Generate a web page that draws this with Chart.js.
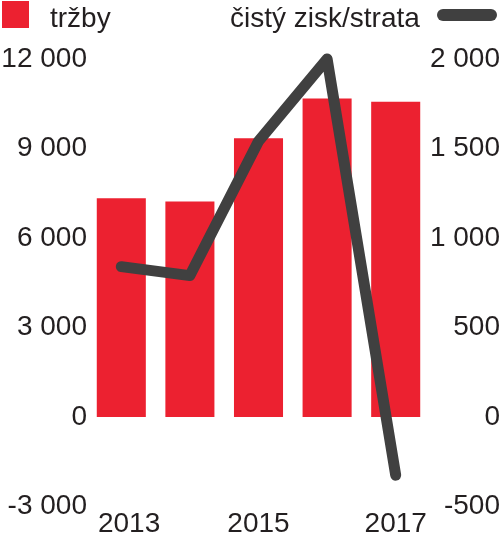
<!DOCTYPE html>
<html lang="cs">
<head>
<meta charset="UTF-8">
<meta name="viewport" content="width=device-width, initial-scale=1.0">
<title>tržby a čistý zisk/strata</title>
<style>
    html, body { margin: 0; padding: 0; background: #fff; overflow: hidden; }
    #wrap { position: relative; width: 500px; height: 541px; }
    .lg {
        position: absolute;
        font-family: "Liberation Sans", Arial, sans-serif;
        font-size: 28px;
        line-height: 1;
        color: #231f20;
        white-space: nowrap;
    }
</style>
</head>
<body>
<div id="wrap">
    <canvas id="myChart"></canvas>
    <div class="lg" style="left:2px; top:1px; width:27px; height:27px; background:#ec2130;"></div>
    <div class="lg" style="left:50px; top:4px;">tržby</div>
    <div class="lg" style="left:230px; top:4px;">čistý zisk/strata</div>
    <div class="lg" style="left:437px; top:9px; width:60px; height:12px; border-radius:6px; background:#404040;"></div>
</div>
<script src="https://cdn.jsdelivr.net/npm/chart.js"></script>
<script>
    // hodnoty
    const years = ['2013', '2014', '2015', '2016', '2017'];
    const trzby = [7330, 7220, 9340, 10680, 10570];
    const zisk = [840, 790, 1540, 2000, -325];
    const leftTicks = [-3000, 0, 3000, 6000, 9000, 12000];
    const rightTicks = [-500, 0, 500, 1000, 1500, 2000];

    const fmt = v => String(v).replace(/\B(?=(\d{3})+(?!\d))/g, ' ');

    Chart.defaults.font.family = '"Liberation Sans", Arial, sans-serif';
    Chart.defaults.font.size = 28;
    Chart.defaults.color = '#231f20';

    const ctx = document.getElementById('myChart');
    ctx.parentNode.style.width = '500px';
    ctx.style.display = 'block';

    const myChart = new Chart(ctx, {
        data: {
            labels: years,
            datasets: [{
                type: 'line',
                label: 'čistý zisk/strata',
                data: zisk,
                yAxisID: 'y1',
                borderColor: '#404040',
                borderWidth: 11,
                borderCapStyle: 'round',
                borderJoinStyle: 'round',
                pointRadius: 0,
                tension: 0,
                clip: false,
                order: 1
            }, {
                type: 'bar',
                label: 'tržby',
                data: trzby,
                yAxisID: 'y',
                backgroundColor: '#ec2130',
                categoryPercentage: 1,
                barPercentage: 0.715,
                order: 2
            }]
        },
        options: {
            responsive: true,
            maintainAspectRatio: false,
            animation: false,
            layout: { padding: { top: 59, left: 0, right: 0, bottom: 0 } },
            plugins: {
                legend: { display: false },
                tooltip: { enabled: false }
            },
            scales: {
                x: {
                    grid: { display: false, drawTicks: false },
                    border: { display: false },
                    ticks: {
                        padding: 1,
                        maxRotation: 0,
                        autoSkip: false,
                        // jen každý druhý rok, první trochu doprava
                        callback: (v, i) => i % 2 ? '' : (i === 0 ? '  ' + years[i] : years[i])
                    },
                    afterFit: s => { s.height = 34.5; }
                },
                y: {
                    position: 'left',
                    min: -3000,
                    max: 12000,
                    grid: { display: false, drawTicks: false },
                    border: { display: false },
                    ticks: { padding: 0, callback: v => fmt(v) },
                    afterBuildTicks: s => { s.ticks = leftTicks.map(v => ({ value: v })); },
                    afterFit: s => { s.width = 87; }
                },
                y1: {
                    position: 'right',
                    min: -500,
                    max: 2000,
                    grid: { display: false, drawTicks: false },
                    border: { display: false },
                    ticks: { padding: 0, crossAlign: 'far', callback: v => fmt(v) },
                    afterBuildTicks: s => { s.ticks = rightTicks.map(v => ({ value: v })); },
                    afterFit: s => { s.width = 70; }
                }
            }
        }
    });
</script>
</body>
</html>
